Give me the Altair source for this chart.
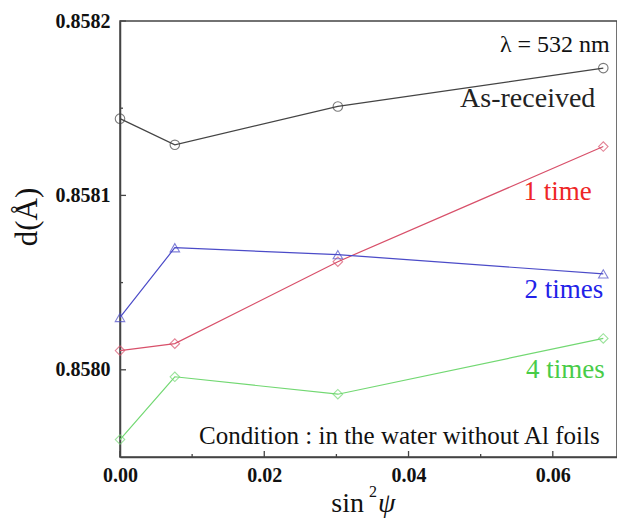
import altair as alt
import pandas as pd

# ---- data ----
sin2psi = [0.0, 0.0076, 0.0302, 0.0670]
as_received = [0.858144, 0.858129, 0.858151, 0.858173]
one_time = [0.858011, 0.858015, 0.858062, 0.858128]
two_times = [0.858030, 0.858070, 0.858066, 0.858055]
four_times = [0.857960, 0.857996, 0.857986, 0.858018]

series_names = ["As-received", "1 time", "2 times", "4 times"]
line_colors = ["#444444", "#d8506a", "#4b4bc8", "#72d872"]
shapes = ["circle", "diamond", "triangle-up", "diamond"]

# annotation labels
ann_text = ["\u03bb = 532 nm", "As-received", "1 time", "2 times", "4 times",
            "Condition : in the water without Al foils"]
ann_x = [0.0679, 0.0659, 0.0654, 0.0670, 0.0672, 0.0665]
ann_y = [0.858186, 0.858155, 0.858102, 0.858046, 0.858000, 0.857962]
ann_color = ["#111111", "#222222", "#ee2626", "#2222e8", "#48cc48", "#111111"]
ann_size = [24, 28, 27, 27, 27, 25]

# tick positions
x_major = [0.0, 0.02, 0.04, 0.06]
x_minor = [0.01, 0.03, 0.05]
y_major = [0.8580, 0.8581, 0.8582]
y_minor = [0.85805, 0.85815]

FONT = "Liberation Serif"
W, H = 497, 436

rows = []
for name, vals in zip(series_names, [as_received, one_time, two_times, four_times]):
    for xv, yv in zip(sin2psi, vals):
        rows.append({"series": name, "x": xv, "y": yv})
df = pd.DataFrame(rows)

xscale = alt.Scale(domain=[0, 0.0689], nice=False, zero=False)
yscale = alt.Scale(domain=[0.85795, 0.8582], nice=False, zero=False)
cscale = alt.Scale(domain=series_names, range=line_colors)
sscale = alt.Scale(domain=series_names, range=shapes)

xaxis = alt.Axis(values=x_major, format=".2f", title=None, grid=False, ticks=False,
                 labelFlush=False, labelFont=FONT, labelFontSize=20, labelFontWeight="bold",
                 labelColor="#111", labelPadding=8, domainColor="#444", domainWidth=1.5)
yaxis = alt.Axis(values=y_major, format=".4f", title=None, grid=False, ticks=False,
                 labelFlush=False, labelFont=FONT, labelFontSize=20, labelFontWeight="bold",
                 labelColor="#111", labelPadding=10, domainColor="#444", domainWidth=1.5)

base = alt.Chart(df)
lines = base.mark_line(strokeWidth=1.2).encode(
    x=alt.X("x:Q", scale=xscale, axis=xaxis),
    y=alt.Y("y:Q", scale=yscale, axis=yaxis),
    color=alt.Color("series:N", scale=cscale, legend=None),
    detail="series:N",
)
points = base.mark_point(filled=False, size=90, strokeWidth=1.1, clip=False).encode(
    x=alt.X("x:Q", scale=xscale),
    y=alt.Y("y:Q", scale=yscale),
    color=alt.Color("series:N", scale=cscale, legend=None),
    shape=alt.Shape("series:N", scale=sscale, legend=None),
)

ann_df = pd.DataFrame({"t": ann_text, "x": ann_x, "y": ann_y, "c": ann_color, "s": ann_size})
ann = alt.Chart(ann_df).mark_text(align="right", baseline="middle", font=FONT).encode(
    x=alt.X("x:Q", scale=xscale),
    y=alt.Y("y:Q", scale=yscale),
    text="t:N",
    color=alt.Color("c:N", scale=None),
    size=alt.Size("s:Q", scale=None),
)

# inward tick marks
xt_major = alt.Chart(pd.DataFrame({"v": x_major})).mark_rule(color="#444", strokeWidth=1.3).encode(
    x=alt.X("v:Q", scale=xscale), y=alt.value(H), y2=alt.value(H - 6))
xt_minor = alt.Chart(pd.DataFrame({"v": x_minor})).mark_rule(color="#444", strokeWidth=1.3).encode(
    x=alt.X("v:Q", scale=xscale), y=alt.value(H), y2=alt.value(H - 3))
yt_major = alt.Chart(pd.DataFrame({"v": y_major})).mark_rule(color="#444", strokeWidth=1.3).encode(
    y=alt.Y("v:Q", scale=yscale), x=alt.value(0), x2=alt.value(6))
yt_minor = alt.Chart(pd.DataFrame({"v": y_minor})).mark_rule(color="#444", strokeWidth=1.3).encode(
    y=alt.Y("v:Q", scale=yscale), x=alt.value(0), x2=alt.value(3))

# axis titles
ytitle = alt.Chart(pd.DataFrame({"t": ["d(\u00c5)"]})).mark_text(
    font=FONT, fontSize=31, angle=270, align="center", baseline="middle", color="#111").encode(
    text="t:N", x=alt.value(-92), y=alt.value(196))
xt1 = alt.Chart(pd.DataFrame({"t": ["sin"]})).mark_text(
    font=FONT, fontSize=28, align="right", baseline="alphabetic", color="#111").encode(
    text="t:N", x=alt.value(244), y=alt.value(491))
xt2 = alt.Chart(pd.DataFrame({"t": ["2"]})).mark_text(
    font=FONT, fontSize=16, align="left", baseline="alphabetic", color="#111").encode(
    text="t:N", x=alt.value(249), y=alt.value(476))
xt3 = alt.Chart(pd.DataFrame({"t": ["\u03c8"]})).mark_text(
    font=FONT, fontSize=28, fontStyle="italic", align="left", baseline="alphabetic", color="#111").encode(
    text="t:N", x=alt.value(258), y=alt.value(491))

chart = alt.layer(lines, points, ann, xt_major, xt_minor, yt_major, yt_minor,
                  ytitle, xt1, xt2, xt3).properties(
    width=W, height=H,
    autosize=alt.AutoSizeParams(type="none"),
    padding={"left": 112, "top": 13, "right": 0, "bottom": 62},
    background="white",
).configure_view(stroke="#444", strokeWidth=1.5)

chart.save("out.html", embed_options={"renderer": "svg", "actions": False})
